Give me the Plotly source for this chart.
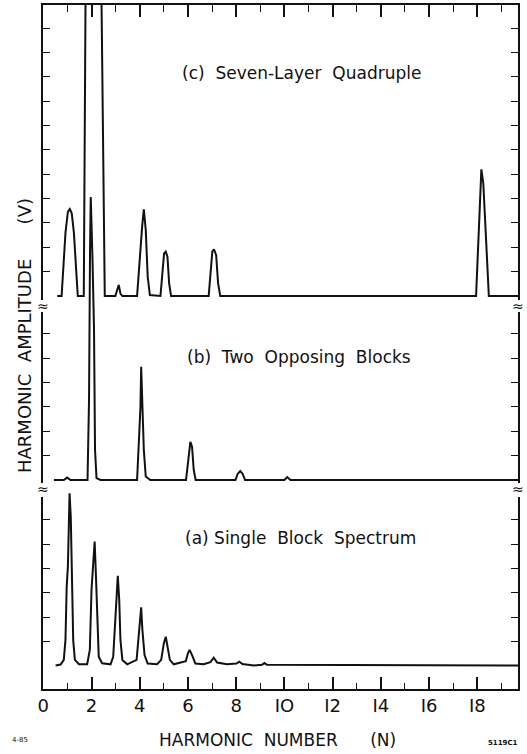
import plotly.graph_objects as go

# ---------------- data (harmonic number N, amplitude in tick units) ----------------
SEVEN_N = [0.58, 0.76, 0.92, 1.02, 1.10, 1.18, 1.27, 1.43, 1.62, 1.68, 1.76, 2.40, 2.55,
           2.99, 3.08, 3.13, 3.20, 3.28,
           3.89, 4.00, 4.10, 4.17, 4.25, 4.33, 4.42,
           4.86, 4.94, 5.01, 5.08, 5.15, 5.22, 5.30,
           6.86, 6.94, 7.01, 7.08, 7.17, 7.25, 7.34,
           17.95, 18.17, 18.25, 18.48, 19.70]
SEVEN_AMP = [0.0, 0.0, 2.59, 3.46, 3.57, 3.40, 2.59, 0.0, 0.0, 0.0, 13.5, 13.5, 0.0,
             0.0, 0.30, 0.45, 0.10, 0.0,
             0.0, 1.75, 2.85, 3.56, 2.71, 0.79, 0.04,
             0.0, 0.93, 1.75, 1.82, 1.61, 0.52, 0.0,
             0.0, 1.07, 1.82, 1.92, 1.68, 0.52, 0.0,
             0.0, 5.20, 4.63, 0.0, 0.0]

OPP_N = [0.44, 0.85, 0.99, 1.13, 1.835, 1.897, 1.939, 1.968, 2.042, 2.104, 2.146, 2.208, 2.373,
         3.89, 3.98, 4.03, 4.06, 4.11, 4.17, 4.25, 4.44,
         5.92, 6.02, 6.10, 6.17, 6.24, 6.32,
         7.97, 8.06, 8.17, 8.27, 8.37,
         10.00, 10.12, 10.25, 19.70]
OPP_AMP = [0.0, 0.0, 0.10, 0.0, 0.0, 3.29, 9.45, 11.62, 9.03, 6.16, 1.23, 0.08, 0.0,
           0.0, 1.92, 3.01, 4.65, 3.29, 1.23, 0.14, 0.0,
           0.0, 0.82, 1.57, 1.37, 0.41, 0.0,
           0.0, 0.25, 0.37, 0.25, 0.0,
           0.0, 0.12, 0.0, 0.0]

SINGLE_N = [0.51, 0.72, 0.85, 0.92, 0.97, 1.02, 1.09, 1.14, 1.20, 1.24, 1.31, 1.48, 1.82,
            1.93, 2.00, 2.07, 2.13, 2.18, 2.24, 2.30, 2.44, 2.79,
            2.90, 2.98, 3.04, 3.09, 3.15, 3.20, 3.28, 3.48,
            3.87, 3.95, 4.00, 4.06, 4.11, 4.20, 4.33, 4.72,
            4.89, 5.00, 5.08, 5.15, 5.25, 5.41,
            5.91, 6.00, 6.07, 6.17, 6.31, 6.65,
            6.93, 7.07, 7.21, 7.62,
            8.01, 8.13, 8.26, 8.73,
            9.07, 9.17, 9.28, 19.70]
SINGLE_AMP = [0.02, 0.06, 0.25, 1.07, 3.26, 4.08, 7.09, 6.13, 3.12, 1.07, 0.25, 0.07, 0.07,
              0.66, 3.12, 4.49, 5.11, 3.81, 1.75, 0.38, 0.11, 0.07,
              0.38, 1.75, 2.85, 3.70, 2.71, 1.07, 0.25, 0.07,
              0.25, 1.20, 1.89, 2.41, 1.48, 0.45, 0.10, 0.07,
              0.25, 0.93, 1.20, 0.79, 0.25, 0.07,
              0.20, 0.52, 0.66, 0.45, 0.10, 0.07,
              0.16, 0.34, 0.14, 0.07,
              0.10, 0.18, 0.08, 0.02,
              0.05, 0.12, 0.05, 0.02]

X_TICKS = [0, 2, 4, 6, 8, 10, 12, 14, 16, 18]
X_TICK_LABELS = ["0", "2", "4", "6", "8", "IO", "I2", "I4", "I6", "I8"]

LABEL_C = "(c)\u00a0 Seven-Layer\u00a0 Quadruple"
LABEL_B = "(b)\u00a0 Two\u00a0 Opposing\u00a0 Blocks"
LABEL_A = "(a) Single\u00a0 Block\u00a0 Spectrum"
Y_TITLE = "HARMONIC\u00a0 AMPLITUDE\u00a0\u00a0\u00a0\u00a0\u00a0\u00a0(V)"
X_TITLE = "HARMONIC\u00a0 NUMBER\u00a0\u00a0\u00a0\u00a0\u00a0 (N)"

# ---------------- layout geometry (pixels) ----------------
W, H = 527, 754
PX_L, PX_R, PX_T, PX_B = 43, 518, 5, 689
UNIT = 24.35  # pixels per amplitude tick
X_RANGE = [-0.012, (PX_R - 42.7) / 24.14]
PLOT_H = PX_B - PX_T
PLOT_W = PX_R - PX_L

# name: (top px, bottom px, baseline px, tick values)
PANELS = {
    "c": (5, 300, 296, list(range(1, 12))),
    "b": (312, 483, 480, list(range(1, 7))),
    "a": (497, 689, 666, list(range(1, 7))),
}


def py_to_paper(py):
    return (PX_B - py) / PLOT_H


def px_to_paper(px):
    return (px - PX_L) / PLOT_W


FONT = "DejaVu Sans"
INK = "#111111"

fig = go.Figure()

# empty traces so that every frame subplot is drawn
for xa, ya in [("x", "y"), ("x2", "y2"), ("x3", "y3")]:
    fig.add_trace(go.Scatter(x=[None], y=[None], mode="lines", xaxis=xa, yaxis=ya,
                             hoverinfo="skip", showlegend=False))

# data traces on one full-height invisible axis pair (x4/y4)
for n, amp, key in [(SEVEN_N, SEVEN_AMP, "c"), (OPP_N, OPP_AMP, "b"), (SINGLE_N, SINGLE_AMP, "a")]:
    base = PANELS[key][2]
    off = (PX_B - base) / UNIT
    fig.add_trace(go.Scatter(
        x=n, y=[v + off for v in amp], mode="lines",
        line=dict(color=INK, width=2), xaxis="x4", yaxis="y4",
        hoverinfo="skip", showlegend=False))

axis_line = dict(showline=True, linecolor=INK, linewidth=1.6, showgrid=False, zeroline=False)

layout = dict(
    width=W, height=H,
    margin=dict(l=PX_L, r=W - PX_R, t=PX_T, b=H - PX_B),
    paper_bgcolor="white", plot_bgcolor="rgba(0,0,0,0)",
    showlegend=False,
    font=dict(family=FONT, color=INK),
)

# panel a (bottom) : x axis with labels
top, bot, base, tv = PANELS["a"]
layout["xaxis"] = dict(axis_line, anchor="y", domain=[0, 1], range=X_RANGE,
                       ticks="inside", ticklen=12, tickwidth=1.5, tickcolor=INK,
                       tickvals=X_TICKS, ticktext=X_TICK_LABELS,
                       tickfont=dict(size=18, family=FONT, color=INK),
                       minor=dict(ticks="inside", ticklen=6, tickwidth=1.2, tickcolor=INK,
                                  tickvals=list(range(1, 20, 2))),
                       mirror=False)
layout["yaxis"] = dict(axis_line, anchor="x", domain=[py_to_paper(bot), py_to_paper(top)],
                       range=[(base - bot) / UNIT, (base - top) / UNIT],
                       ticks="inside", ticklen=7, tickwidth=1.3, tickcolor=INK,
                       tickvals=tv, showticklabels=False, mirror="ticks")

# panel c (top): x axis drawn on top
top, bot, base, tv = PANELS["c"]
layout["xaxis2"] = dict(axis_line, anchor="y2", domain=[0, 1], range=X_RANGE, side="top",
                        ticks="inside", ticklen=12, tickwidth=1.5, tickcolor=INK,
                        tickvals=X_TICKS, showticklabels=False,
                        minor=dict(ticks="inside", ticklen=7, tickwidth=1.2, tickcolor=INK,
                                   tickvals=list(range(1, 20, 2))),
                        mirror=False)
layout["yaxis2"] = dict(axis_line, anchor="x2", domain=[py_to_paper(bot), py_to_paper(top)],
                        range=[(base - bot) / UNIT, (base - top) / UNIT],
                        ticks="inside", ticklen=7, tickwidth=1.3, tickcolor=INK,
                        tickvals=tv, showticklabels=False, mirror="ticks")

# panel b (middle): no horizontal lines
top, bot, base, tv = PANELS["b"]
layout["xaxis3"] = dict(anchor="y3", domain=[0, 1], range=X_RANGE, visible=False)
layout["yaxis3"] = dict(axis_line, anchor="x3", domain=[py_to_paper(bot), py_to_paper(top)],
                        range=[(base - bot) / UNIT, (base - top) / UNIT],
                        ticks="inside", ticklen=7, tickwidth=1.3, tickcolor=INK,
                        tickvals=tv, showticklabels=False, mirror="ticks")

# data axes
layout["xaxis4"] = dict(anchor="y4", domain=[0, 1], range=X_RANGE, visible=False)
layout["yaxis4"] = dict(anchor="x4", domain=[0, 1], range=[0, PLOT_H / UNIT], visible=False)

fig.update_layout(**layout)

ann = []


def add_text(text, px, py, size, angle=0, xanchor="center"):
    ann.append(dict(text=text, x=px_to_paper(px), y=py_to_paper(py), xref="paper", yref="paper",
                    showarrow=False, xanchor=xanchor, yanchor="middle", textangle=angle,
                    font=dict(size=size, family=FONT, color=INK)))


add_text(LABEL_C, 180, 73, 17, xanchor="left")
add_text(LABEL_B, 185, 357, 17, xanchor="left")
add_text(LABEL_A, 183, 538, 17, xanchor="left")
add_text(Y_TITLE, 24, 336, 18, angle=-90)
add_text(X_TITLE, 277, 740, 17)
add_text("4-85", 20, 740, 7)
add_text("<b>5119C1</b>", 503, 743, 7)

# axis-break squiggles
for py in [306, 489]:
    add_text("\u2248", PX_L, py, 14)
    add_text("\u2248", PX_R, py, 14)

fig.update_layout(annotations=ann)

fig.write_html("out.html", config={"displayModeBar": False},
               post_script="document.body.style.margin='0px';")
